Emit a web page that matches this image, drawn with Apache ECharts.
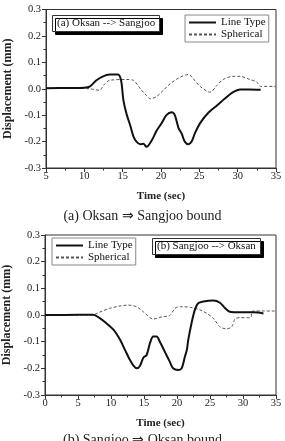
<!DOCTYPE html>
<html>
<head>
<meta charset="utf-8">
<script src="https://cdn.jsdelivr.net/npm/echarts@6/dist/echarts.min.js"></script>
<style>
  body { margin: 0; background: #fff; }
  #main { width: 285px; height: 441px; }
</style>
</head>
<body>
<div id="main"></div>
<script>
// (a) Oksan -> Sangjoo
var t1Line = [5, 8, 10, 10.7, 11.5, 12.3, 13.3, 14.4, 14.8, 15.1, 15.5, 16, 16.4, 16.8, 17.3, 17.7, 18.1, 18.8, 19.4, 20.1, 20.7, 21.4, 21.8, 22.3, 22.7, 23.1, 23.6, 24, 24.4, 25.1, 26.2, 27.3, 28.3, 29.4, 30.3, 31.5, 33];
var v1Line = [0.002, 0.003, 0.004, 0.008, 0.03, 0.045, 0.054, 0.054, 0.03, -0.044, -0.095, -0.14, -0.18, -0.2, -0.21, -0.208, -0.22, -0.195, -0.16, -0.13, -0.1, -0.089, -0.1, -0.15, -0.17, -0.2, -0.21, -0.2, -0.17, -0.13, -0.09, -0.063, -0.038, -0.013, -0.003, -0.003, -0.004];
var t1Sph = [5, 8, 10.7, 12, 12.5, 13.3, 15.5, 16.4, 17.3, 18.1, 18.6, 19.4, 20.3, 21.2, 22.5, 23.6, 24.2, 25.1, 26.4, 27.3, 28.1, 29.4, 30.3, 31.6, 32.5, 33, 35];
var v1Sph = [0.002, 0.002, 0.0, -0.006, 0.013, 0.032, 0.035, 0.032, 0.0, -0.025, -0.038, -0.03, -0.006, 0.019, 0.044, 0.054, 0.038, 0.009, -0.013, 0.013, 0.035, 0.047, 0.047, 0.035, 0.025, 0.009, 0.009];

// (b) Sangjoo -> Oksan
var t2Line = [0, 3, 7.3, 8.3, 9.3, 10.4, 11.4, 12.1, 12.9, 13.4, 13.9, 14.4, 14.9, 15.4, 15.9, 16.4, 16.9, 17.4, 18.2, 18.9, 19.4, 20.2, 20.7, 21.2, 21.5, 21.7, 22.2, 22.7, 23.2, 24, 25.5, 26.5, 27.3, 28, 29.5, 31.6, 33.1];
var v2Line = [0.0, 0.0, 0.001, -0.012, -0.031, -0.056, -0.094, -0.13, -0.17, -0.19, -0.2, -0.19, -0.16, -0.15, -0.106, -0.081, -0.081, -0.1, -0.14, -0.175, -0.2, -0.206, -0.2, -0.156, -0.13, -0.094, -0.031, 0.019, 0.044, 0.051, 0.054, 0.046, 0.025, 0.012, 0.01, 0.01, 0.006];
var t2Sph = [0, 3, 7.3, 8.3, 9.8, 11.4, 12.6, 13.9, 14.9, 16.4, 17.9, 18.9, 19.7, 20.5, 22, 23.5, 24.5, 25.5, 26.5, 27.5, 28.3, 28.8, 29.5, 31.1, 31.5, 33, 35];
var v2Sph = [0.0, 0.0, 0.001, 0.011, 0.025, 0.034, 0.037, 0.031, 0.012, -0.015, -0.006, -0.002, 0.025, 0.031, 0.029, 0.019, 0.006, -0.012, -0.044, -0.052, -0.044, -0.015, -0.01, -0.01, 0.015, 0.015, 0.015];

var yTicks = [-0.3, -0.2, -0.1, 0.0, 0.1, 0.2, 0.3];
var seriesNames = ['Line Type', 'Spherical'];
var panelTitles = ['(a) Oksan --> Sangjoo', '(b) Sangjoo --> Oksan'];
var captions = ['(a) Oksan \u21D2 Sangjoo bound', '(b) Sangjoo \u21D2 Oksan bound'];

function pairs(xs, ys) {
    return xs.map(function (x, i) { return [x, ys[i]]; });
}

var font = 'Liberation Serif';

function xAx(idx, min) {
    return {
        type: 'value', gridIndex: idx, min: min, max: 35, interval: 5,
        name: 'Time (sec)', nameLocation: 'middle', nameGap: 23,
        nameTextStyle: { fontFamily: font, fontSize: 11, fontWeight: 'bold', color: '#222' },
        axisLine: { onZero: false, lineStyle: { color: '#333', width: 1 } },
        axisTick: { inside: false, length: 4, lineStyle: { color: '#333' } },
        minorTick: { show: true, splitNumber: 2, length: 2.5, lineStyle: { color: '#333' } },
        axisLabel: { fontFamily: font, fontSize: 10.5, color: '#222', margin: 3 },
        splitLine: { show: false }
    };
}

function yAx(idx) {
    return {
        type: 'value', gridIndex: idx, min: yTicks[0], max: yTicks[yTicks.length - 1], interval: 0.1,
        name: 'Displacement (mm)', nameLocation: 'middle', nameGap: 31,
        nameTextStyle: { fontFamily: font, fontSize: 12, fontWeight: 'bold', color: '#222' },
        axisLine: { onZero: false, lineStyle: { color: '#333', width: 1 } },
        axisTick: { inside: false, length: 4, lineStyle: { color: '#333' } },
        minorTick: { show: true, splitNumber: 2, length: 2.5, lineStyle: { color: '#333' } },
        axisLabel: {
            fontFamily: font, fontSize: 10.5, color: '#222', margin: 5,
            formatter: function (v) { return v.toFixed(1); }
        },
        splitLine: { show: false }
    };
}

function lineSeries(name, idx, data) {
    return {
        name: name, type: 'line', xAxisIndex: idx, yAxisIndex: idx,
        data: data, symbol: 'none', smooth: 0.3,
        lineStyle: { color: '#111', width: 2 }, itemStyle: { color: '#111' }
    };
}

function sphSeries(name, idx, data) {
    return {
        name: name, type: 'line', xAxisIndex: idx, yAxisIndex: idx,
        data: data, symbol: 'none', smooth: 0.3,
        lineStyle: { color: '#555', width: 1, type: [3, 2] }, itemStyle: { color: '#555' }
    };
}

var boxTitle = {
    textStyle: { fontFamily: font, fontSize: 11, fontWeight: 'normal', color: '#111' },
    backgroundColor: '#fff', borderColor: '#333', borderWidth: 1,
    padding: [3, 5], shadowColor: '#000', shadowOffsetX: 3, shadowOffsetY: 3, shadowBlur: 0
};

function legendAt(left, top) {
    return {
        data: seriesNames, orient: 'vertical', left: left, top: top,
        itemWidth: 27, itemHeight: 10, itemGap: 1, padding: [2, 3],
        borderColor: '#888', borderWidth: 1, backgroundColor: '#fff',
        itemStyle: { opacity: 0 },
        textStyle: { fontFamily: font, fontSize: 11, color: '#111' },
        selectedMode: false
    };
}

var myChart = echarts.init(document.getElementById('main'), null, { renderer: 'canvas' });

var option = {
    backgroundColor: '#fff',
    animation: false,
    title: [
        Object.assign({ text: panelTitles[0], left: 52, top: 15 }, boxTitle),
        Object.assign({ text: panelTitles[1], left: 152, top: 238 }, boxTitle),
        { text: captions[0], left: 'center', top: 204, textStyle: { fontFamily: font, fontSize: 14, fontWeight: 'normal', color: '#222' } },
        { text: captions[1], left: 'center', top: 428, textStyle: { fontFamily: font, fontSize: 14, fontWeight: 'normal', color: '#222' } }
    ],
    legend: [legendAt(185, 15), legendAt(52, 238)],
    grid: [
        { left: 46, top: 9.5, width: 230, height: 158.5, outerBoundsMode: 'none', show: true, borderColor: '#333', borderWidth: 1, backgroundColor: 'transparent' },
        { left: 45, top: 235, width: 231, height: 160, outerBoundsMode: 'none', show: true, borderColor: '#333', borderWidth: 1, backgroundColor: 'transparent' }
    ],
    xAxis: [xAx(0, 5), xAx(1, 0)],
    yAxis: [yAx(0), yAx(1)],
    series: [
        sphSeries(seriesNames[1], 0, pairs(t1Sph, v1Sph)),
        lineSeries(seriesNames[0], 0, pairs(t1Line, v1Line)),
        sphSeries(seriesNames[1], 1, pairs(t2Sph, v2Sph)),
        lineSeries(seriesNames[0], 1, pairs(t2Line, v2Line))
    ]
};

myChart.setOption(option);
</script>
</body>
</html>
